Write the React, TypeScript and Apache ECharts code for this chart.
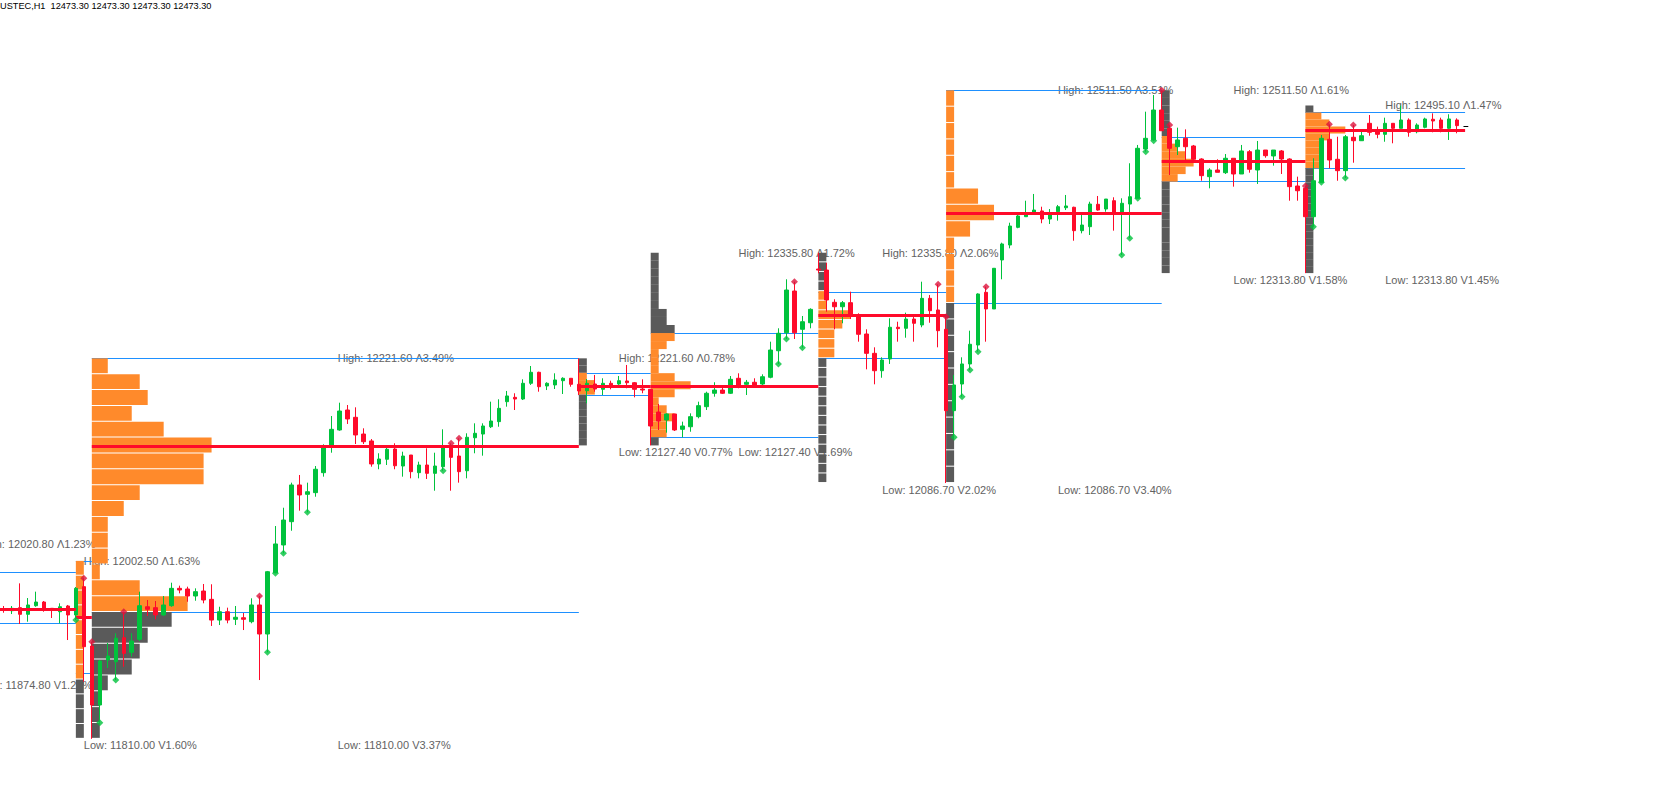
import React, { useEffect, useRef } from "react";
import * as echarts from "echarts";

// ---------- Candles (USTEC, H1) ----------
const opens = [
  11950.4, 11948.6, 11951.9, 11944.7, 11954.0, 11958.0, 11951.2, 11947.5, 11953.7, 11944.0,
  11974.6, 11910.4, 11846.6, 11895.3, 11893.4, 11919.4, 11903.6, 11917.7, 11952.9, 11951.9,
  11944.0, 11954.0, 11972.8, 11972.1, 11964.5, 11969.9, 11960.9, 11938.5, 11947.5, 11939.3,
  11941.0, 11936.7, 11954.8, 11923.4, 11989.7, 12019.7, 12044.9, 12084.6, 12074.5, 12076.3,
  12097.9, 12126.8, 12144.1, 12165.7, 12157.8, 12139.7, 12132.2, 12107.3, 12112.4, 12123.5,
  12105.1, 12117.0, 12097.9, 12106.2, 12097.2, 12104.4, 12124.9, 12115.9, 12100.0, 12135.7,
  12139.7, 12147.6, 12153.1, 12174.7, 12179.4, 12177.6, 12194.6, 12206.5, 12191.7, 12192.8,
  12197.4, 12200.0, 12193.5, 12186.6, 12193.8, 12188.1, 12194.6, 12193.8, 12197.1, 12195.2,
  12188.4, 12188.1, 12163.5, 12154.9, 12161.4, 12144.8, 12147.6, 12158.5, 12169.3, 12183.8,
  12187.3, 12183.8, 12200.0, 12193.5, 12195.7, 12193.8, 12201.1, 12229.8, 12249.3, 12294.4,
  12253.0, 12260.1, 12318.2, 12317.1, 12282.2, 12277.4, 12281.8, 12268.5, 12247.9, 12227.0,
  12208.2, 12220.9, 12255.2, 12254.1, 12264.1, 12257.7, 12286.5, 12273.9, 12253.0, 12165.0,
  12193.8, 12215.5, 12236.0, 12293.0, 12275.0, 12328.0, 12344.2, 12363.3, 12374.8, 12379.6,
  12381.0, 12372.3, 12380.2, 12384.5, 12385.0, 12359.7, 12364.0, 12388.2, 12383.1, 12392.1,
  12379.6, 12388.5, 12394.7, 12448.0, 12457.8, 12490.2, 12470.4, 12450.5, 12459.6, 12451.3,
  12437.2, 12418.1, 12425.3, 12422.4, 12438.0, 12421.0, 12445.1, 12425.3, 12446.9, 12440.5,
  12445.9, 12437.2, 12408.0, 12405.5, 12374.8, 12412.0, 12458.5, 12436.9, 12424.6, 12460.7,
  12457.0, 12475.8, 12466.7, 12463.9, 12475.8, 12470.4, 12479.4, 12466.7, 12471.5, 12480.2,
  12479.4, 12470.4, 12479.4,
];
const closes = [
  11949.4, 11951.2, 11944.7, 11954.8, 11958.0, 11951.2, 11949.4, 11952.9, 11944.0, 11972.8,
  11909.7, 11846.6, 11894.2, 11899.6, 11918.8, 11902.5, 11915.8, 11954.0, 11950.1, 11944.0,
  11954.8, 11972.8, 11971.0, 11964.5, 11969.2, 11960.2, 11938.5, 11947.5, 11938.5, 11941.5,
  11939.3, 11954.8, 11923.4, 11990.8, 12020.8, 12046.7, 12084.6, 12073.8, 12077.3, 12101.6,
  12126.8, 12144.8, 12164.6, 12156.0, 12138.7, 12131.4, 12107.3, 12112.7, 12123.2, 12105.4,
  12115.9, 12099.0, 12106.2, 12097.2, 12105.1, 12124.9, 12114.5, 12099.0, 12136.2, 12140.5,
  12148.4, 12153.8, 12167.5, 12180.9, 12177.6, 12194.6, 12206.5, 12190.9, 12194.6, 12198.2,
  12200.0, 12193.5, 12186.3, 12194.6, 12188.4, 12194.6, 12192.8, 12197.4, 12195.2, 12188.1,
  12187.3, 12148.4, 12153.8, 12161.4, 12144.1, 12148.4, 12158.5, 12170.4, 12183.8, 12187.3,
  12183.8, 12198.9, 12190.9, 12195.7, 12192.8, 12201.7, 12230.6, 12248.7, 12295.5, 12249.3,
  12261.2, 12274.6, 12317.1, 12284.7, 12277.4, 12281.8, 12268.5, 12247.6, 12227.0, 12208.2,
  12219.8, 12255.2, 12253.7, 12264.1, 12259.5, 12286.5, 12273.1, 12251.5, 12165.0, 12192.8,
  12215.5, 12236.8, 12291.2, 12275.0, 12319.0, 12345.3, 12364.7, 12375.6, 12378.5, 12382.0,
  12372.3, 12377.7, 12385.6, 12386.4, 12359.7, 12365.8, 12388.5, 12382.0, 12393.9, 12379.6,
  12389.3, 12396.4, 12448.8, 12459.6, 12490.2, 12467.8, 12448.8, 12457.8, 12450.5, 12436.9,
  12419.2, 12425.3, 12422.8, 12438.0, 12421.0, 12445.9, 12426.1, 12446.9, 12440.8, 12446.9,
  12437.2, 12407.3, 12402.9, 12374.8, 12413.7, 12459.6, 12436.1, 12424.6, 12461.3, 12457.0,
  12462.4, 12466.1, 12463.9, 12475.8, 12470.4, 12479.4, 12466.1, 12474.0, 12480.5, 12478.3,
  12470.4, 12480.5, 12473.3,
];
const lows = [
  11946.4, 11945.0, 11934.2, 11936.7, 11952.9, 11947.5, 11940.7, 11935.0, 11916.9, 11938.5,
  11871.8, 11810.0, 11827.5, 11886.6, 11873.6, 11888.0, 11898.9, 11915.8, 11942.9, 11939.3,
  11942.9, 11952.9, 11967.4, 11958.3, 11959.4, 11956.6, 11932.1, 11933.1, 11935.0, 11933.1,
  11927.7, 11935.0, 11873.6, 11903.6, 11989.1, 12010.7, 12035.1, 12056.8, 12055.0, 12071.9,
  12093.6, 12119.5, 12143.3, 12150.6, 12128.9, 12128.9, 12104.4, 12101.6, 12106.2, 12101.6,
  12093.6, 12091.8, 12091.8, 12091.1, 12078.4, 12100.0, 12078.4, 12087.1, 12091.8, 12118.9,
  12116.3, 12146.2, 12147.6, 12169.3, 12165.7, 12176.5, 12192.8, 12185.5, 12187.3, 12188.4,
  12183.0, 12190.9, 12181.9, 12173.0, 12185.5, 12181.9, 12188.1, 12192.8, 12189.2, 12179.4,
  12183.8, 12127.4, 12144.1, 12141.2, 12143.0, 12136.2, 12142.2, 12156.7, 12165.7, 12180.1,
  12183.0, 12183.0, 12189.2, 12181.9, 12190.9, 12192.0, 12200.0, 12215.5, 12242.5, 12242.5,
  12233.1, 12254.1, 12313.6, 12272.0, 12253.0, 12259.5, 12264.1, 12239.6, 12209.7, 12193.5,
  12200.6, 12215.5, 12239.6, 12243.9, 12239.6, 12255.2, 12260.1, 12233.5, 12086.7, 12136.2,
  12180.1, 12209.0, 12228.8, 12239.6, 12275.0, 12307.1, 12340.6, 12362.3, 12374.8, 12378.5,
  12367.7, 12366.9, 12370.5, 12382.0, 12348.8, 12356.8, 12355.0, 12381.3, 12380.2, 12359.7,
  12333.4, 12351.4, 12394.7, 12445.1, 12457.0, 12467.5, 12419.9, 12441.5, 12435.4, 12436.1,
  12413.7, 12405.5, 12422.8, 12421.0, 12407.3, 12421.0, 12422.4, 12410.2, 12438.6, 12430.0,
  12421.0, 12392.1, 12392.1, 12313.8, 12364.0, 12412.0, 12427.2, 12413.7, 12416.7, 12433.2,
  12456.7, 12462.4, 12459.6, 12455.9, 12454.2, 12470.4, 12461.3, 12465.0, 12470.4, 12466.1,
  12466.1, 12457.8, 12465.0,
];
const highs = [
  11953.7, 11953.7, 11978.2, 11962.3, 11969.2, 11959.1, 11951.5, 11956.6, 11954.8, 11974.2,
  11983.7, 11915.1, 11895.3, 11913.7, 11924.2, 11947.5, 11924.2, 11969.2, 11960.2, 11959.1,
  11964.5, 11978.9, 11975.7, 11974.6, 11972.8, 11977.5, 11977.2, 11952.9, 11951.9, 11953.7,
  11946.1, 11962.0, 11964.5, 11991.6, 12040.2, 12060.0, 12087.1, 12095.4, 12087.1, 12105.1,
  12128.6, 12159.2, 12173.6, 12171.1, 12168.6, 12145.9, 12134.3, 12118.9, 12125.4, 12129.7,
  12120.6, 12117.0, 12109.8, 12124.3, 12119.5, 12144.8, 12129.7, 12135.1, 12140.5, 12151.3,
  12151.3, 12174.7, 12177.3, 12186.3, 12183.8, 12198.9, 12213.3, 12207.1, 12195.7, 12205.4,
  12201.1, 12200.0, 12221.6, 12199.2, 12203.6, 12200.0, 12197.4, 12202.5, 12214.4, 12196.0,
  12198.9, 12188.4, 12172.2, 12162.1, 12161.4, 12153.1, 12162.1, 12174.7, 12185.5, 12195.7,
  12190.9, 12202.5, 12205.4, 12198.2, 12200.0, 12204.3, 12239.6, 12254.1, 12307.1, 12304.5,
  12267.4, 12275.7, 12335.8, 12325.0, 12285.5, 12283.6, 12293.7, 12270.3, 12253.0, 12233.5,
  12222.7, 12264.9, 12261.2, 12271.0, 12268.5, 12304.5, 12290.1, 12301.7, 12266.6, 12203.6,
  12222.7, 12251.5, 12291.9, 12299.1, 12319.3, 12346.7, 12368.3, 12377.4, 12392.1, 12399.4,
  12385.6, 12383.1, 12387.5, 12398.3, 12385.6, 12376.6, 12391.0, 12397.2, 12393.9, 12395.8,
  12394.7, 12432.6, 12452.4, 12488.4, 12506.4, 12511.5, 12474.0, 12471.1, 12469.3, 12452.4,
  12438.0, 12427.2, 12436.9, 12442.6, 12438.0, 12452.4, 12446.9, 12456.7, 12446.9, 12446.9,
  12446.9, 12438.0, 12418.1, 12408.0, 12438.0, 12463.2, 12474.7, 12461.3, 12463.2, 12474.0,
  12466.4, 12484.8, 12472.2, 12481.9, 12475.8, 12495.1, 12481.2, 12475.8, 12481.9, 12486.6,
  12481.9, 12485.6, 12481.2,
];
const lastPrice = 12473.3;

// Fractal markers (candle indices)
const fractalUp = [10, 11, 15, 32, 56, 57, 99, 117, 118, 123, 145, 146, 163, 166, 169];
const fractalDown = [9, 12, 14, 33, 34, 35, 38, 55, 97, 98, 100, 119, 120, 121, 122, 140, 141, 142, 143, 144, 164, 165, 168];

// ---------- Sessions / market profile ----------
const sessionStart = [-1, 9, 11, 72, 81, 102, 118, 145, 163];
const sessionEnd = [9, 11, 72, 81, 102, 118, 145, 163, 183];
const sessionHigh = [12020.8, 12002.5, 12221.6, 12221.6, 12335.8, 12335.8, 12511.5, 12511.5, 12495.1];
const sessionLow = [11874.8, 11810.0, 11810.0, 12127.4, 12127.4, 12086.7, 12086.7, 12313.8, 12313.8];
const valueAreaHigh = [11990.1, 12002.5, 12221.6, 12205.4, 12248.7, 12293.7, 12511.5, 12461.3, 12487.7];
const valueAreaLow = [11935.3, 11881.2, 11946.9, 12181.9, 12136.2, 12221.6, 12281.1, 12413.4, 12427.2];
const pocPrice = [11950.4, 11942.1, 12126.8, 12192.0, 12192.0, 12268.5, 12379.1, 12435.1, 12469.1];
const highPct = ["1.23", "1.63", "3.49", "0.78", "1.72", "2.06", "3.51", "1.61", "1.47"];
const lowPct = ["1.21", "1.60", "3.37", "0.77", "1.69", "2.02", "3.40", "1.58", "1.45"];

// TPO counts per price bin (top bin first)
const profile0: number[] = [];
const profile1 = [1, 1, 1, 1, 1, 1, 1, 1, 1, 1, 1, 1];
const profile2 = [2, 6, 7, 5, 9, 15, 14, 14, 6, 4, 2, 2, 2, 1, 6, 12, 10, 7, 6, 5, 2, 1, 1, 1];
const profile3 = [1, 1, 1, 2, 2, 1, 1, 1, 1, 1, 1, 1];
const profile4 = [1, 1, 1, 1, 1, 1, 1, 2, 2, 3, 3, 2, 1, 1, 1, 3, 5, 3, 1, 2, 3, 2, 2, 1];
const profile5 = [1, 1, 1, 1, 1, 1, 4, 3, 2, 2, 2, 1, 1, 1, 1, 1, 1, 1, 1, 1, 1, 1, 1, 1];
const profile6 = [1, 1, 1, 1, 1, 1, 4, 6, 3, 1, 1, 1, 1, 1, 1, 1, 1, 1, 1, 1, 1, 1, 1, 1];
const profile7 = [1, 1, 1, 1, 1, 1, 1, 2, 3, 4, 3, 2, 1, 1, 1, 1, 1, 1, 1, 1, 1, 1, 1, 1];
const profile8 = [1, 2, 3, 5, 3, 2, 2, 2, 2, 1, 1, 1, 1, 1, 1, 1, 1, 1, 1, 1, 1, 1, 1, 1];
const profiles = [profile0, profile1, profile2, profile3, profile4, profile5, profile6, profile7, profile8];

const title = "USTEC,H1  12473.30 12473.30 12473.30 12473.30";

// ---------- layout / style ----------
const labelAnchor = [-3.1, 10, 41.8, 77, 92, 110, 132, 154, 173];
const BAR_SLOTS = 208;
const Y_MIN = 11752.5;
const Y_MAX = 12609.2;
const GREEN = "#00c23c";
const RED = "#ff0a2a";
const ORANGE = "#ff8a2b";
const GRAY = "#5a5a5a";
const BLUE = "#1e90ff";
const TEXT = "#626262";
const FONT = '"Liberation Sans", Arial, sans-serif';

export default function App() {
  const ref = useRef<HTMLDivElement>(null);

  useEffect(() => {
    if (!ref.current) return;
    const chart = echarts.init(ref.current, null, { renderer: "svg" });

    const categories = Array.from({ length: BAR_SLOTS }, (_, i) => String(i));
    const candleData = opens.map((o, i) => [o, closes[i], lows[i], highs[i]]);

    const profileData: number[][] = [];
    profiles.forEach((counts, s) => {
      const n = counts.length;
      if (!n) return;
      const step = (sessionHigh[s] - sessionLow[s]) / n;
      counts.forEach((c, k) => {
        const top = sessionHigh[s] - k * step;
        const bottom = top - step;
        const mid = (top + bottom) / 2;
        const va = mid <= valueAreaHigh[s] + 0.01 && mid >= valueAreaLow[s] - 0.01 ? 1 : 0;
        profileData.push([sessionStart[s], top, bottom, c, va]);
      });
    });

    const vaLines: number[][] = [];
    const pocLines: number[][] = [];
    sessionStart.forEach((st, s) => {
      vaLines.push([st, sessionEnd[s], valueAreaHigh[s]]);
      vaLines.push([st, sessionEnd[s], valueAreaLow[s]]);
      pocLines.push([st, sessionEnd[s], pocPrice[s]]);
    });

    const labelData = sessionStart.map((_, s) => [labelAnchor[s], sessionHigh[s], sessionLow[s], s]);

    const lineRender = (color: string, width: number) => (params: any, api: any) => {
      const a = api.coord([api.value(0), api.value(2)]);
      const b = api.coord([api.value(1), api.value(2)]);
      const y = width % 2 === 1 ? Math.round(a[1]) + 0.5 : Math.round(a[1]);
      return {
        type: "line",
        shape: { x1: a[0], y1: y, x2: b[0], y2: y },
        style: { stroke: color, lineWidth: width },
      };
    };

    const option: any = {
      animation: false,
      backgroundColor: "#ffffff",
      grid: { left: -3.3, top: 0, width: 1664, height: 792, show: false },
      xAxis: [
        { type: "category", data: categories, show: false, boundaryGap: true },
        { type: "value", min: -0.5, max: BAR_SLOTS - 0.5, show: false },
      ],
      yAxis: { type: "value", min: Y_MIN, max: Y_MAX, show: false },
      graphic: [
        {
          type: "text",
          x: 0,
          y: 1,
          style: { text: title, fill: "#000", fontSize: 9.2, fontFamily: FONT },
          z: 100,
        },
      ],
      series: [
        {
          type: "custom",
          name: "labels",
          xAxisIndex: 1,
          z: 1,
          data: labelData,
          renderItem: (params: any, api: any) => {
            const s = api.value(3);
            const ph = api.coord([api.value(0), api.value(1)]);
            const pl = api.coord([api.value(0), api.value(2)]);
            return {
              type: "group",
              children: [
                {
                  type: "text",
                  x: ph[0],
                  y: ph[1],
                  style: {
                    text: `High: ${sessionHigh[s].toFixed(2)} Λ${highPct[s]}%`,
                    fill: TEXT,
                    fontSize: 11,
                    fontFamily: FONT,
                    verticalAlign: "middle",
                    align: "left",
                  },
                },
                {
                  type: "text",
                  x: pl[0],
                  y: pl[1] + 1,
                  style: {
                    text: `Low: ${sessionLow[s].toFixed(2)} V${lowPct[s]}%`,
                    fill: TEXT,
                    fontSize: 11,
                    fontFamily: FONT,
                    verticalAlign: "top",
                    align: "left",
                  },
                },
              ],
            };
          },
        },
        {
          type: "custom",
          name: "value area",
          xAxisIndex: 1,
          z: 2,
          data: vaLines,
          renderItem: lineRender(BLUE, 1),
        },
        {
          type: "custom",
          name: "profile",
          xAxisIndex: 1,
          z: 3,
          data: profileData,
          renderItem: (params: any, api: any) => {
            const st = api.value(0);
            const p1 = api.coord([st, api.value(1)]);
            const p2 = api.coord([st + api.value(3), api.value(2)]);
            const h = p2[1] - p1[1];
            // separators only show where bins are tall enough
            const gap = h >= 9 ? 1 : 0;
            return {
              type: "rect",
              shape: { x: p1[0], y: p1[1], width: p2[0] - p1[0], height: Math.max(h - gap, 0.5) },
              style: { fill: api.value(4) ? ORANGE : GRAY },
            };
          },
        },
        {
          type: "candlestick",
          name: "USTEC",
          xAxisIndex: 0,
          z: 4,
          barWidth: 4,
          data: candleData,
          itemStyle: {
            color: GREEN,
            color0: RED,
            borderColor: GREEN,
            borderColor0: RED,
            borderWidth: 1,
          },
        },
        {
          type: "custom",
          name: "poc",
          xAxisIndex: 1,
          z: 5,
          data: pocLines,
          renderItem: lineRender(RED, 3),
        },
        {
          type: "custom",
          name: "price",
          xAxisIndex: 1,
          z: 5,
          data: [[182.8, 183.4, lastPrice]],
          renderItem: lineRender("#000000", 1),
        },
        {
          type: "scatter",
          name: "fractal up",
          xAxisIndex: 1,
          z: 6,
          symbol: "diamond",
          symbolSize: 7,
          itemStyle: { color: "#dc143c" },
          data: fractalUp.map((i) => [i, highs[i]]),
        },
        {
          type: "scatter",
          name: "fractal down",
          xAxisIndex: 1,
          z: 6,
          symbol: "diamond",
          symbolSize: 7,
          itemStyle: { color: GREEN },
          data: fractalDown.map((i) => [i, lows[i]]),
        },
      ],
    };

    chart.setOption(option);
    return () => chart.dispose();
  }, []);

  return (
    <div
      ref={ref}
      style={{ position: "fixed", left: 0, top: 0, width: 1664, height: 792, background: "#fff" }}
    />
  );
}
